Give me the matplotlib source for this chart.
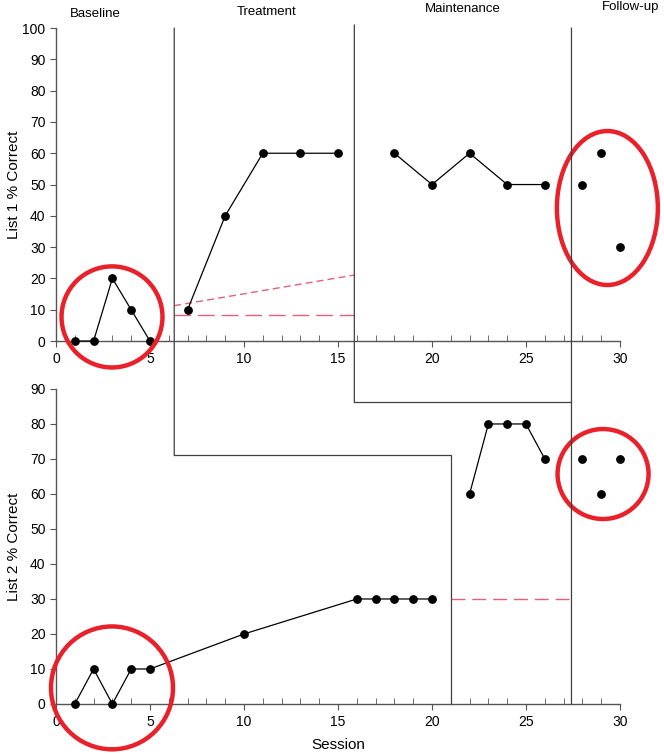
"""
Multiple-baseline single-case plot: List 1 / List 2 % correct across phases.
"""
import matplotlib
matplotlib.use('Agg')

import matplotlib.pyplot as plt
from matplotlib.patches import Ellipse, ConnectionPatch

plt.rcParams['font.family'] = ['Liberation Sans Narrow', 'Liberation Sans', 'DejaVu Sans']

# --- Data ---
PHASES = ['Baseline', 'Treatment', 'Maintenance', 'Follow-up']

# List 1
L1_BASE_X = [1, 2, 3, 4, 5]
L1_BASE_Y = [0, 0, 20, 10, 0]
L1_TREAT_X = [7, 9, 11, 13, 15]
L1_TREAT_Y = [10, 40, 60, 60, 60]
L1_MAINT_X = [18, 20, 22, 24, 26]
L1_MAINT_Y = [60, 50, 60, 50, 50]
L1_FOLLOW_X = [28, 29, 30]
L1_FOLLOW_Y = [50, 60, 30]
L1_TREND_X = [6.29, 15.87]
L1_TREND_Y = [11.3, 21.1]
L1_LEVEL_X = [6.29, 15.87]
L1_LEVEL_Y = [8.3, 8.3]

# List 2
L2_BASE_X = [1, 2, 3, 4, 5, 10, 16, 17, 18, 19, 20]
L2_BASE_Y = [0, 10, 0, 10, 10, 20, 30, 30, 30, 30, 30]
L2_MAINT_X = [22, 23, 24, 25, 26]
L2_MAINT_Y = [60, 80, 80, 80, 70]
L2_FOLLOW_X = [28, 29, 30]
L2_FOLLOW_Y = [70, 60, 70]
L2_LEVEL_X = [21.0, 27.42]
L2_LEVEL_Y = [30, 30]

# phase change positions (session units)
PC1_TOP, PC1_BOT = 6.29, 21.0
PC2_TOP, PC2_BOT = 15.87, 27.42
PC3 = 27.42
STEP1_Y, STEP2_Y = 71.1, 86.3

PHASE_COL = '#404040'
DASH_COL = '#e4607a'
CIRCLE_COL = '#e8212b'

fig = plt.figure(figsize=(6.64, 7.56), dpi=100)
ax1 = fig.add_axes([0.0843, 0.5489, 0.8494, 0.414])
ax2 = fig.add_axes([0.0843, 0.0688, 0.8494, 0.4167])


def style_axis(ax, ymax):
    ax.set_xlim(0, 30)
    ax.set_ylim(0, ymax)
    for s in ['top', 'right']:
        ax.spines[s].set_visible(False)
    for s in ['left', 'bottom']:
        ax.spines[s].set_color('#555555')
        ax.spines[s].set_linewidth(1.0)
    ax.set_xticks(range(0, 31, 5))
    ax.set_xticks(range(0, 31), minor=True)
    ax.set_yticks(range(0, ymax + 1, 10))
    ax.tick_params(axis='x', which='major', direction='out', length=4,
                   color='#555555', labelsize=10, pad=4)
    ax.tick_params(axis='x', which='minor', direction='in', length=4,
                   color='#555555')
    ax.tick_params(axis='y', which='major', direction='out', length=4,
                   color='#555555', labelsize=10)
    ax.patch.set_alpha(0)


style_axis(ax1, 100)
style_axis(ax2, 90)

mk = dict(color='black', lw=0.9, marker='o', markersize=5.3, clip_on=False, zorder=5)

# --- List 1 ---
ax1.plot(L1_BASE_X, L1_BASE_Y, **mk)
ax1.plot(L1_TREAT_X, L1_TREAT_Y, **mk)
ax1.plot(L1_MAINT_X, L1_MAINT_Y, **mk)
ax1.plot(L1_FOLLOW_X, L1_FOLLOW_Y, 'o', color='black', markersize=5.3,
         clip_on=False, zorder=5)
ax1.plot(L1_TREND_X, L1_TREND_Y, color=DASH_COL, lw=1.0, dashes=(5, 3))
ax1.plot(L1_LEVEL_X, L1_LEVEL_Y, color=DASH_COL, lw=1.0, dashes=(12, 5))

# --- List 2 ---
ax2.plot(L2_BASE_X, L2_BASE_Y, **mk)
ax2.plot(L2_MAINT_X, L2_MAINT_Y, **mk)
ax2.plot(L2_FOLLOW_X, L2_FOLLOW_Y, 'o', color='black', markersize=5.3,
         clip_on=False, zorder=5)
ax2.plot(L2_LEVEL_X, L2_LEVEL_Y, color=DASH_COL, lw=1.0, dashes=(10, 5))

# --- Phase change lines ---
pl = dict(color=PHASE_COL, lw=0.9)
for xt, ytop, yb in [(PC1_TOP, 100, STEP1_Y), (PC2_TOP, 101, STEP2_Y),
                     (PC3, 100, 0)]:
    con = ConnectionPatch(xyA=(xt, ytop), coordsA=ax1.transData,
                          xyB=(xt, yb), coordsB=ax2.transData, **pl)
    fig.add_artist(con)
ax2.plot([PC1_TOP, PC1_BOT, PC1_BOT], [STEP1_Y, STEP1_Y, 0], clip_on=False, **pl)
ax2.plot([PC2_TOP, PC2_BOT], [STEP2_Y, STEP2_Y], clip_on=False, **pl)

# --- Red circles ---
for ax, (cx, cy, w, h) in [(ax1, (2.98, 7.7, 5.37, 32.3)),
                           (ax1, (29.33, 42.5, 5.37, 49.2)),
                           (ax2, (2.98, 4.6, 6.49, 35.1)),
                           (ax2, (29.1, 65.7, 4.84, 25.7))]:
    ax.add_patch(Ellipse((cx, cy), w, h, fill=False, ec=CIRCLE_COL, lw=3.2,
                         clip_on=False, zorder=6))

# --- Text ---
for name, px, py in zip(PHASES, [95, 267, 463, 631], [14, 12, 9, 7]):
    fig.text(px / 664, 1 - py / 756, name, ha='center', va='center', fontsize=9.5)

fig.text(14 / 664, 1 - 185 / 756, 'List 1 % Correct', rotation=90,
         ha='center', va='center', fontsize=11)
fig.text(14 / 664, 1 - 547 / 756, 'List 2 % Correct', rotation=90,
         ha='center', va='center', fontsize=11)
fig.text(338 / 664, 1 - 745 / 756, 'Session', ha='center', va='center',
         fontsize=11)

fig.savefig('out.png', dpi=100)
